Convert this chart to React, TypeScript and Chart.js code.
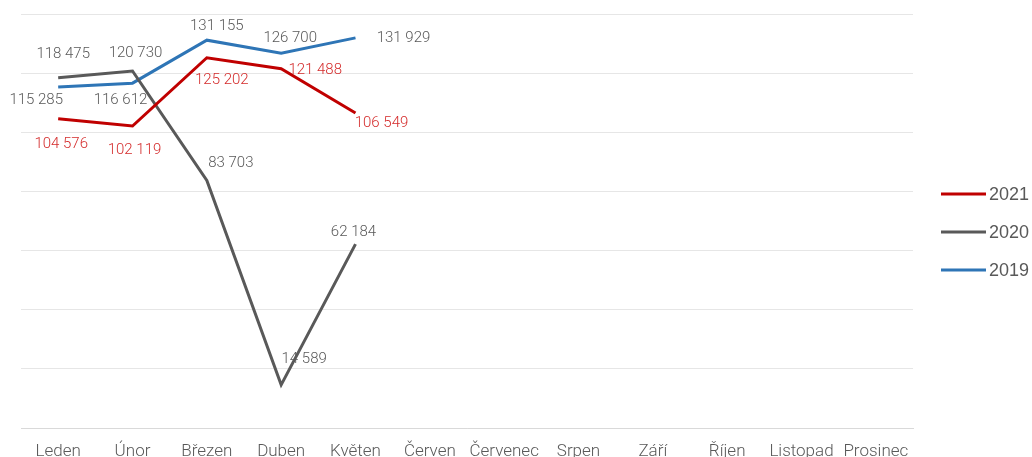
import React, { useEffect, useRef } from "react";
import { Chart, registerables } from "chart.js";

Chart.register(...registerables);

const months = ["Leden", "Únor", "Březen", "Duben", "Květen", "Červen", "Červenec", "Srpen", "Září", "Říjen", "Listopad", "Prosinec"];
const series2021 = [104576, 102119, 125202, 121488, 106549, null, null, null, null, null, null, null];
const series2020 = [118475, 120730, 83703, 14589, 62184, null, null, null, null, null, null, null];
const series2019 = [115285, 116612, 131155, 126700, 131929, null, null, null, null, null, null, null];
const seriesNames = ["2021", "2020", "2019"];
const lineColors = ["#C00000", "#595959", "#2E75B6"];
const labelColors = ["#D42B2B", "#595959", "#595959"];

// label placement relative to each point (dx, dy of text centre)
const labelOffsets = [
  [[3, 25], [2, 24], [15, 22], [34, 2], [26, 10]],
  [[5, -23], [3, -18], [24, -17], [23, -26], [-2, -12]],
  [[-22, 13], [-12, 17], [10, -14], [9, -15], [48, 0]],
];

const fmt = (v: number) => String(v).replace(/\B(?=(\d{3})+(?!\d))/g, " ");

const labelPlugin = {
  id: "pointLabels",
  afterDatasetsDraw(chart: any) {
    const ctx = chart.ctx;
    ctx.save();
    ctx.font = "300 15px Roboto";
    ctx.textAlign = "center";
    ctx.textBaseline = "middle";
    chart.data.datasets.forEach((ds: any, i: number) => {
      const meta = chart.getDatasetMeta(i);
      meta.data.forEach((pt: any, j: number) => {
        const v = ds.data[j];
        if (v == null) return;
        const off = labelOffsets[i][j] || [0, -12];
        ctx.fillStyle = labelColors[i];
        ctx.fillText(fmt(v), pt.x + off[0], pt.y + off[1]);
      });
    });
    ctx.restore();
  },
};

const legendPlugin = {
  id: "customLegend",
  afterDraw(chart: any) {
    const ctx = chart.ctx;
    ctx.save();
    ctx.font = "18px 'Liberation Sans'";
    ctx.textBaseline = "middle";
    ctx.textAlign = "left";
    const ys = [194, 232, 270];
    seriesNames.forEach((name, i) => {
      ctx.strokeStyle = lineColors[i];
      ctx.lineWidth = 3;
      ctx.beginPath();
      ctx.moveTo(941, ys[i]);
      ctx.lineTo(986, ys[i]);
      ctx.stroke();
      ctx.fillStyle = "#595959";
      ctx.fillText(name, 989, ys[i] + 1);
    });
    ctx.restore();
  },
};

export default function App() {
  const ref = useRef<HTMLCanvasElement>(null);
  useEffect(() => {
    if (!ref.current) return;
    const chart = new Chart(ref.current, {
      type: "line",
      data: {
        labels: months,
        datasets: [series2021, series2020, series2019].map((d, i) => ({
          label: seriesNames[i],
          data: d,
          borderColor: lineColors[i],
          backgroundColor: lineColors[i],
          borderWidth: 3,
          pointRadius: 0,
          tension: 0,
          spanGaps: false,
        })),
      },
      options: {
        animation: false,
        responsive: false,
        maintainAspectRatio: false,
        layout: { padding: { left: 21, right: 119, top: 14, bottom: 0 } },
        plugins: { legend: { display: false }, tooltip: { enabled: false } },
        scales: {
          x: {
            offset: true,
            grid: { display: false, drawTicks: false },
            border: { display: true, color: "#D9D9D9", width: 1 },
            ticks: { color: "#595959", font: { family: "Roboto", size: 17, weight: "300" }, padding: 14, maxRotation: 0, minRotation: 0, autoSkip: false },
            afterFit: (axis: any) => { axis.height = 29; },
          },
          y: {
            min: 0,
            max: 140000,
            ticks: { display: false, stepSize: 20000 },
            grid: { color: "#E6E6E6", lineWidth: 1, drawTicks: false },
            border: { display: false },
          },
        },
      },
      plugins: [labelPlugin, legendPlugin],
    });
    return () => chart.destroy();
  }, []);
  return (
    <div style={{ position: "fixed", left: 0, top: 0, width: 1032, height: 457, background: "#fff" }}>
      <canvas ref={ref} width={1032} height={457} style={{ width: 1032, height: 457 }} />
    </div>
  );
}
